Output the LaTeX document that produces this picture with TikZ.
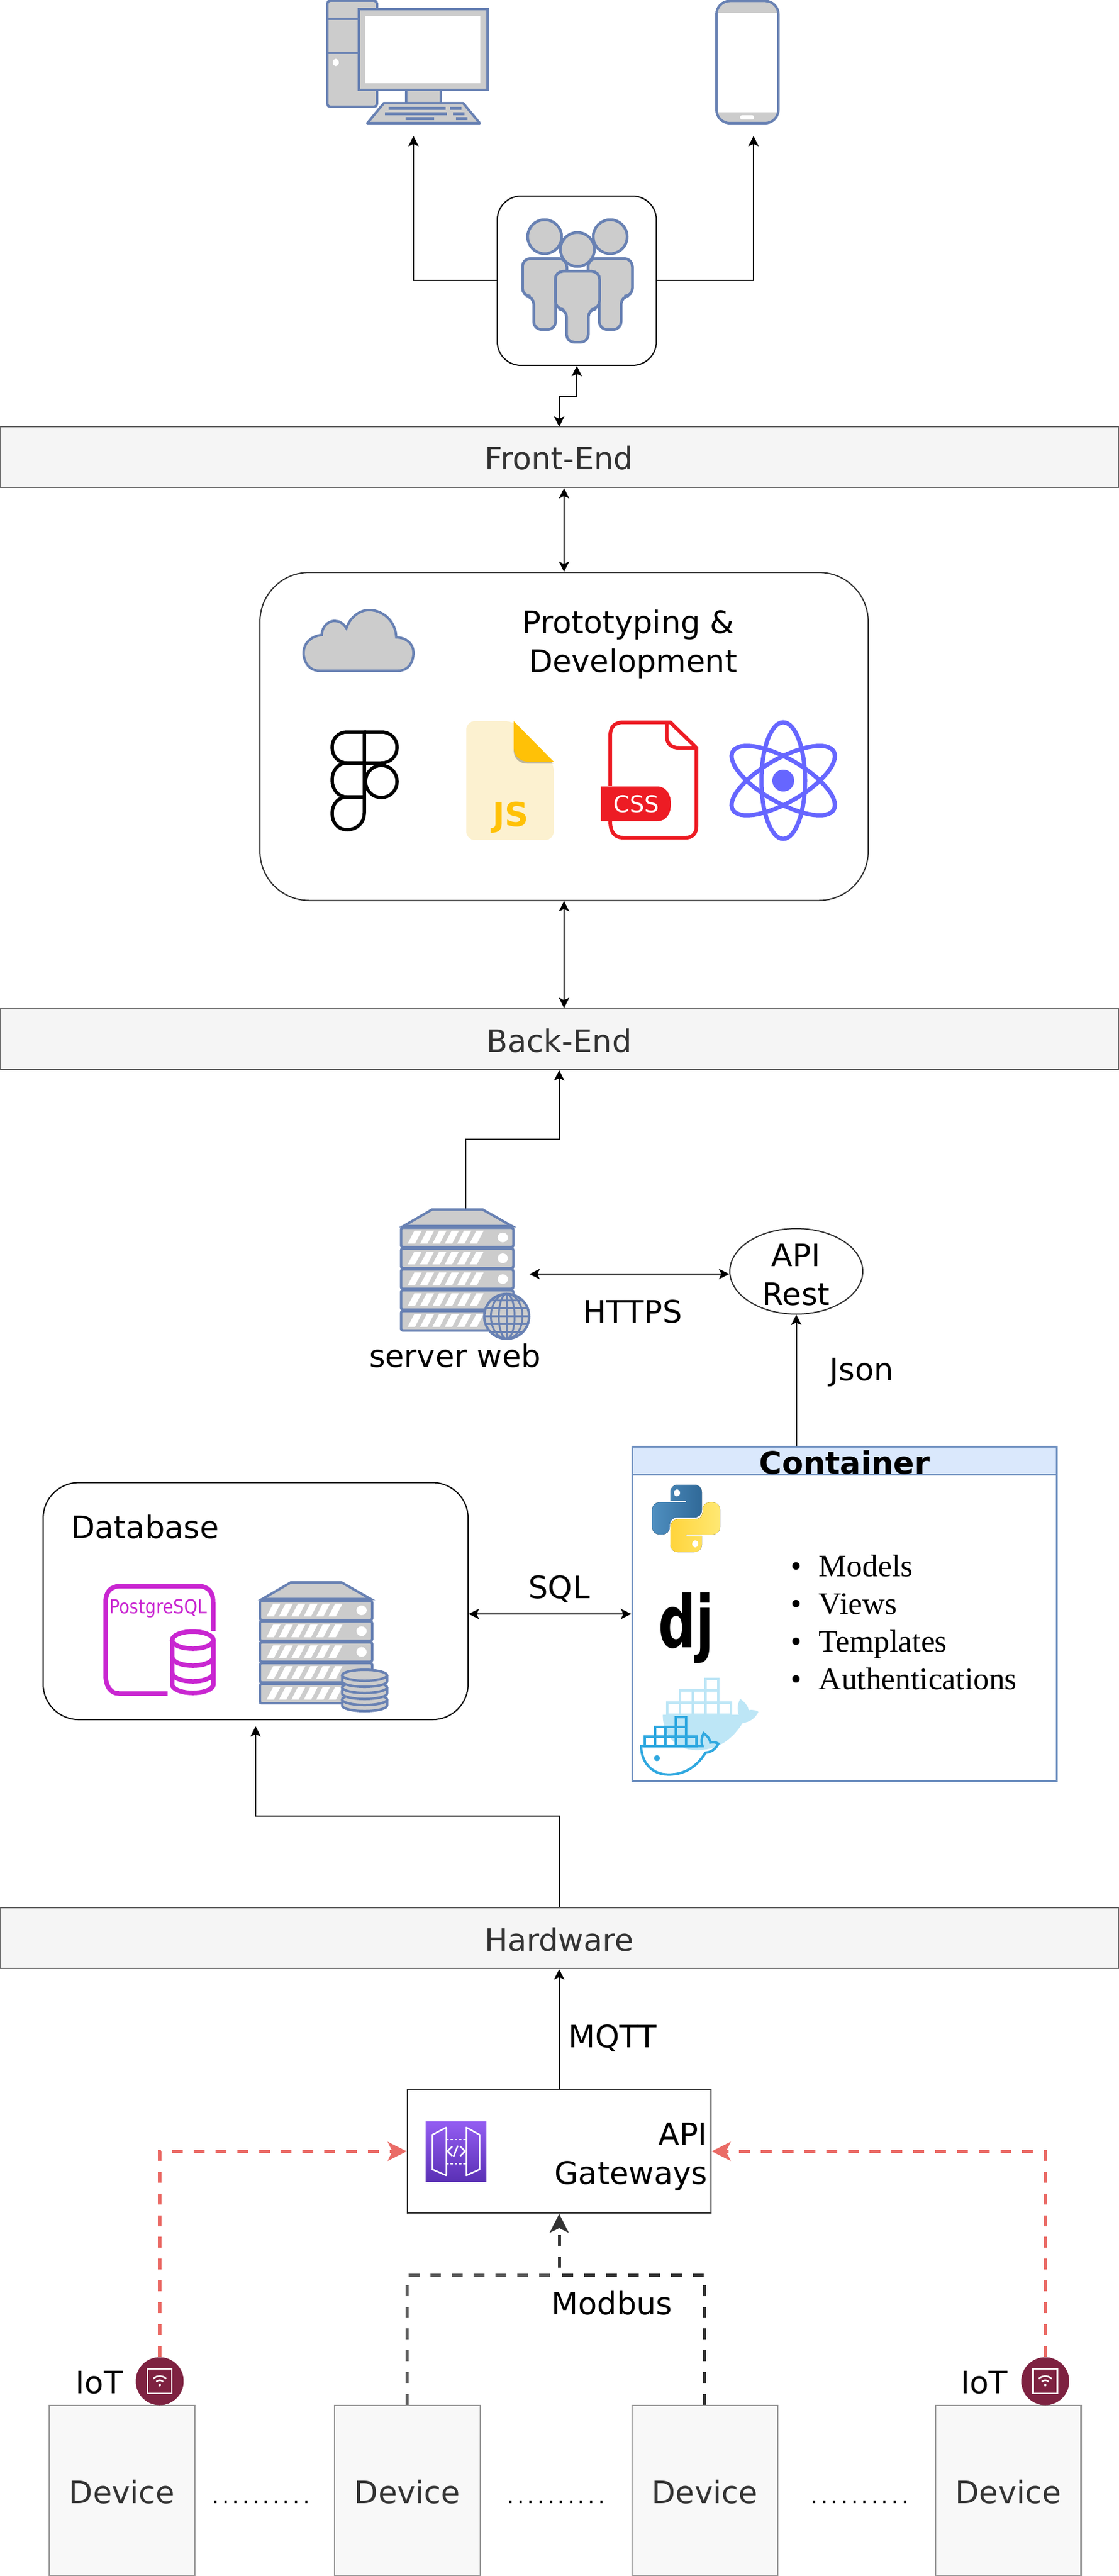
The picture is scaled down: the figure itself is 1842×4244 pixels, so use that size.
\documentclass[tikz,border=0pt]{standalone}
\usepackage{fontspec}
\setmainfont{DejaVu Sans}
\newfontfamily\listfont{Liberation Serif}
\newfontfamily\dotfont[LetterSpace=15.4]{DejaVu Sans}
\usetikzlibrary{arrows.meta,positioning,shapes.geometric}

\definecolor{iconblue}{HTML}{6881B3}
\definecolor{icongrey}{HTML}{CCCCCC}
\definecolor{barfill}{HTML}{F5F5F5}
\definecolor{barline}{HTML}{666666}
\definecolor{barText}{HTML}{333333}
\definecolor{devfill}{HTML}{F8F8F8}
\definecolor{devline}{HTML}{999999}
\definecolor{headfill}{HTML}{DAE8FC}
\definecolor{headline}{HTML}{6C8EBF}
\definecolor{iotred}{HTML}{EA6B66}
\definecolor{iotdisc}{HTML}{7E2241}
\definecolor{pgpink}{HTML}{C926D1}
\definecolor{cssred}{HTML}{ED1C24}
\definecolor{jsfill}{HTML}{FCF1D0}
\definecolor{jsfold}{HTML}{FFC107}
\definecolor{atomblue}{HTML}{6666FF}
\definecolor{dockA}{HTML}{BDE6F6}
\definecolor{dockB}{HTML}{2FA8E0}
\definecolor{pyblueA}{HTML}{4F8FC0}
\definecolor{pyblueB}{HTML}{306998}
\definecolor{pyyellowA}{HTML}{FFE873}
\definecolor{pyyellowB}{HTML}{FFD43B}
\definecolor{gwtop}{HTML}{945DF2}
\definecolor{gwbottom}{HTML}{5A30B5}

\tikzset{
    pics/person/.style={code={
        \draw[fill=icongrey,draw=iconblue,line width=0.09cm] (0,0) circle (28);
        \draw[fill=icongrey,draw=iconblue,line width=0.09cm,rounded corners=0.26cm]
            (-36.5,36) -- (36.5,36) -- (36.5,98) -- (18,98) -- (18,153)
            -- (-18,153) -- (-18,98) -- (-36.5,98) -- cycle;
    }},
    pics/rack/.style={code={
        \draw[fill=icongrey,draw=iconblue,line width=0.08cm]
            (51,0) -- (134.5,0) -- (182.5,27.3) -- (4,27.3) -- cycle;
        \foreach \u in {0,...,4} {
            \draw[fill=icongrey,draw=iconblue,line width=0.08cm,rounded corners=0.06cm]
                (0,30+34.3*\u) rectangle (185,62+34.3*\u);
            \foreach \s in {0,...,5}
                \fill[white] (11+20.4*\s,56+34.3*\u-0) -- (23+20.4*\s,56+34.3*\u)
                    -- (34+20.4*\s,35+34.3*\u) -- (22+20.4*\s,35+34.3*\u) -- cycle;
        }
        \foreach \u in {0,1,2}
            \fill[white] (167.5,46+34.3*\u) ellipse (8.4 and 8);
    }},
    pics/pysnake/.style={code={
        \fill[#1,rounded corners=0.24cm]
            (-26,-29) -- (-26,-55.5) -- (26,-55.5) -- (26,-1.5) -- (-27,-1.5)
            -- (-27,26.5) -- (-56,26.5) -- (-56,-26.5) [sharp corners] -- (0,-26.5) -- (0,-29) -- cycle;
        \fill[white] (-15,-42) ellipse (5 and 6);
    }},
    pics/crates/.style={code={
        \foreach \c in {0,...,4}
            \draw[#1,line width=0.08cm] (17*\c,-16) rectangle ++(17,16);
        \foreach \c in {1,2,3}
            \draw[#1,line width=0.08cm] (17*\c,-32) rectangle ++(17,16);
        \draw[#1,line width=0.08cm] (51,-48) rectangle ++(17,16);
    }},
    pics/hull/.style={code={
        \path[#1] (-6,0) -- (95,0) .. controls (92,-8) and (94,-16) .. (97,-21)
            .. controls (104,-16) and (108,-10) .. (108,-6)
            .. controls (113,-7) and (118,-6) .. (121,-4)
            .. controls (117,5) and (109,10) .. (100,11)
            .. controls (85,35) and (65,47) .. (39,47)
            .. controls (10,47) and (-6,25) .. (-6,0) -- cycle;
    }},
    pics/wifi/.style={code={
        \draw[white,line width=0.05cm] (-20,-20) rectangle (20,20);
        \draw[white,line width=0.05cm] (0,6.5) ++(225:8) arc (225:315:8);
        \draw[white,line width=0.05cm] (0,6.5) ++(225:15) arc (225:315:15);
        \fill[white] (0,6.5) circle (2.2);
    }}
}

\begin{document}
\begin{tikzpicture}[x=0.02cm,y=-0.02cm,on grid,line width=0.04cm,
        >={Stealth[length=0.34cm,width=0.34cm,inset=0.08cm]}]
    \tikzstyle{lab}=[font=\fontsize{29}{36.4}\selectfont,inner sep=0pt,align=center]
    \tikzstyle{bar}=[lab,draw=barline,fill=barfill,text=barText,line width=0.05cm,
        minimum width=36.84cm,minimum height=2cm,text height=0.84cm,text depth=0pt]
    \tikzstyle{devbox}=[lab,draw=devline,fill=devfill,text=barText,line width=0.05cm,
        minimum width=4.8cm,minimum height=5.6cm,text height=0.84cm,text depth=0pt]
    \tikzstyle{softbox}=[draw,rectangle,inner sep=0pt]
    \tikzstyle{iconline}=[fill=icongrey,draw=iconblue,line width=0.08cm]
    \tikzstyle{redline}=[draw=iotred,line width=0.11cm,dash pattern=on 10.2pt off 10.2pt,
        -{Stealth[length=0.62cm,width=0.62cm,inset=0.15cm]}]
    \tikzstyle{greyline}=[line width=0.1cm,dash pattern=on 10.2pt off 10.2pt]
    \tikzstyle{disc}=[circle,fill=iotdisc,minimum size=1.58cm,inner sep=0pt]
    \tikzstyle{dotrow}=[font=\fontsize{20}{21}\dotfont,inner sep=0pt,anchor=base]

    \useasboundingbox (0,0) rectangle (1842,4244);

    % bars and boxes
    \node[bar] (frontend) at (921,753)  {Front-End};
    \node[bar] (backend)  at (921,1712) {Back-End};
    \node[bar] (hardware) at (921,3193) {Hardware};

    \node[softbox,rounded corners=0.78cm,minimum width=5.24cm,minimum height=5.58cm]
        (users) at (950,462.5) {};
    \node[softbox,draw=barText,rounded corners=1.62cm,minimum width=20.04cm,minimum height=10.81cm]
        (proto) at (929,1213.3) {};
    \node[softbox,rounded corners=1.17cm,minimum width=14cm,minimum height=7.81cm]
        (dbbox) at (421,2637.8) {};
    \node[softbox,draw=headline,fill=white,line width=0.06cm,minimum width=14cm,minimum height=11.04cm]
        (contbox) at (1391,2659) {};
    \node[softbox,draw=headline,fill=headfill,line width=0.06cm,minimum width=14cm,minimum height=0.92cm,
        font=\fontsize{29}{36.4}\selectfont\bfseries,text height=0.88cm,text depth=0pt]
        (conthead) at (1391,2406) {Container};
    \node[softbox,draw=barText,line width=0.05cm,minimum width=10cm,minimum height=4.07cm]
        (gateway) at (921,3544.3) {};
    \node[softbox,ellipse,draw=barText,minimum width=4.38cm,minimum height=2.82cm]
        (apirest) at (1311.5,2094.5) {};

    \node[devbox] (dev1) at (201,4103) {Device};
    \node[devbox] (dev2) [right=9.4cm of dev1] {Device};
    \node[devbox] (dev3) [right=9.8cm of dev2] {Device};
    \node[devbox] (dev4) [right=10cm of dev3]  {Device};

    \node[disc] (iotl) at (263,3923)    {};
    \node[disc] (iotr) at (1721.5,3923) {};
    \pic at (iotl) {wifi};
    \pic at (iotr) {wifi};

    % labels
    \node[lab] (prototxt) at (1035,1061) {Prototyping \&\\\hspace*{0.3em}Development};
    \node[lab,anchor=base]      (srvtxt)  at (749.5,2252) {server web};
    \node[lab,anchor=base]      (https)   at (1042,2179)  {HTTPS};
    \node[lab]                  (apitxt)  at (1311,2100.5) {API\\Rest};
    \node[lab,anchor=base]      (json)    at (1419,2274)  {Json};
    \node[lab,anchor=base]      (sql)     at (921,2633)   {SQL};
    \node[lab,anchor=base west] (dbtxt)   at (116.5,2534) {Database};
    \node[lab,anchor=base]      (mqtt)    at (1009,3373)  {MQTT};
    \node[lab,anchor=base]      (modbus)  at (1008,3813)  {Modbus};
    \node[lab,anchor=east,align=right] (gwtxt) at (1166,3553) {API\\Gateways};
    \node[lab,anchor=base]      (iottxtl) at (163.5,3943) {IoT};
    \node[lab,anchor=base]      (iottxtr) at (1621,3943)  {IoT};
    \node[dotrow]               (dots1)   at (430,4124)   {..........};
    \node[dotrow]               (dots2)   at (916,4124)   {..........};
    \node[dotrow]               (dots3)   at (1416,4124)  {..........};

    \foreach \txt [count=\i] in {Models,Views,Templates,Authentications}
        \node[font=\fontsize{29.3}{30}\listfont,inner sep=0pt,anchor=base west]
            (item\i) at (1348,2597+62*\i-62) {\llap{\textbullet\hspace{0.55em}}\txt};

    % free ends of connectors
    \coordinate (pctip)    at (681,224);
    \coordinate (phonetip) at (1241,224);
    \coordinate (userfoot) at (921,703);
    \coordinate (srvtop)   at (766.6,1992.7);
    \coordinate (srvport)  at (872,2099);
    \coordinate (dbtip)    at (421,2844);
    \coordinate (modjoin)  at (921,3748.5);

    % connectors
    \draw[->] (users.west) -| (pctip);
    \draw[->] (users.east) -| (phonetip);
    \draw[<->] (userfoot) -- ++(0,-50) -| (users.south);
    \draw[<->] (frontend.south -| proto.north) -- (proto.north);
    \draw[<->] (backend.north -| proto.south) -- (proto.south);
    \draw[->] (srvtop) -- ++(0,-115.7) -| (backend.south);
    \draw[<->] (srvport) -- (apirest.west |- srvport);
    \draw[->] (conthead.north -| apirest.south) -- (apirest.south);
    \draw[<->] (contbox.west) -- (contbox.west -| dbbox.east);
    \draw[->] (hardware.north) -- ++(0,-150) -| (dbtip);
    \draw[->] (gateway.north) -- (hardware.south);

    \draw[redline] (iotl.north) |- (gateway.west);
    \draw[redline] (iotr.north) |- (gateway.east);
    \draw[greyline,draw=black!65] (dev2.north) |- (modjoin);
    \draw[greyline,draw=barText,-{Stealth[length=0.62cm,width=0.62cm,inset=0.15cm]}]
        (dev3.north) |- (modjoin) -- (gateway.south);

    % desktop
    \draw[iconline,rounded corners=0.1cm] (539,1) rectangle (621,176);
    \draw[iconline] (539,31) -- (600,31) (539,87) -- (600,87);
    \fill[white] (553,103) ellipse (5 and 6);
    \draw[iconline] (669,148) rectangle (726,172);
    \draw[iconline,line join=round] (632,170) -- (763,170) -- (790,203) -- (605,203) -- cycle;
    \foreach \xa/\xb/\ya in {640/734/176,741/760/176,634/736/185,746/765/185,668/715/193,751/770/193}
        \fill[iconblue] (\xa,\ya) rectangle (\xb,\ya+5);
    \draw[iconline] (591,15) rectangle (803,148);
    \fill[white] (600.5,26) rectangle (790.6,137);

    % phone
    \begin{scope}
        \clip[rounded corners=0.44cm] (1180,1.5) rectangle (1282,203);
        \fill[white] (1180,1.5) rectangle (1282,203);
        \fill[icongrey] (1180,1.5) rectangle (1282,21);
        \fill[icongrey] (1180,185) rectangle (1282,203);
    \end{scope}
    \draw[draw=iconblue,line width=0.08cm,rounded corners=0.44cm] (1180,1.5) rectangle (1282,203);
    \fill[white,rounded corners=0.06cm] (1219,190) rectangle (1242,197);

    % users
    \pic at (897,390)  {person};
    \pic at (1005,390) {person};
    \pic at (951,411)  {person};

    % cloud
    \draw[iconline] (526,1105) -- (656,1105) .. controls (672,1105) and (681,1092) .. (681,1075)
        .. controls (681,1060) and (668,1050) .. (652.6,1050)
        .. controls (652,1025) and (632,1005) .. (608,1005)
        .. controls (590,1005) and (575,1020) .. (570.5,1035)
        .. controls (565,1026) and (558,1023) .. (551,1023)
        .. controls (540,1023) and (530,1033) .. (530,1046)
        .. controls (512,1048) and (500,1060) .. (500,1075)
        .. controls (500,1092) and (510,1105) .. (526,1105) -- cycle;

    % figma
    \begin{scope}[line width=0.11cm]
        \draw (600,1206) -- (572,1206) .. controls (556,1206) and (547,1218) .. (547,1231)
            .. controls (547,1245) and (556,1257) .. (572,1257) -- (600,1257) -- cycle;
        \draw (600,1206) -- (628,1206) .. controls (644,1206) and (654,1218) .. (654,1231)
            .. controls (654,1245) and (644,1257) .. (628,1257) -- (600,1257);
        \draw (600,1257) -- (572,1257) .. controls (556,1257) and (547,1270) .. (547,1285)
            .. controls (547,1300) and (556,1313) .. (572,1313) -- (600,1313) -- cycle;
        \draw (628,1287.5) ellipse (26 and 26.5);
        \draw (600,1313) -- (572,1313) .. controls (556,1313) and (547,1326) .. (547,1340)
            .. controls (547,1355) and (556,1367) .. (572,1367)
            .. controls (588,1367) and (600,1355) .. (600,1340) -- cycle;
    \end{scope}

    % js file
    \fill[jsfill,rounded corners=0.28cm] (768,1188) -- (846,1188) -- (912,1256) -- (912,1384) -- (768,1384) -- cycle;
    \fill[black!25!jsfill] (846,1200) -- (846,1236) .. controls (846,1250) and (856,1258) .. (868,1258) -- (912,1258) -- (900,1250) -- cycle;
    \fill[jsfold] (846,1188) -- (846,1232) .. controls (846,1246) and (858,1255) .. (870,1255) -- (912,1255) -- cycle;
    \node[font=\fontsize{31}{32}\selectfont\bfseries,text=jsfold,inner sep=0pt,anchor=base] (jstxt) at (841,1361) {JS};

    % css file
    \draw[cssred,line width=0.12cm] (1005,1295) -- (1005,1212) .. controls (1005,1198) and (1012,1190) .. (1026,1190)
        -- (1104,1190) -- (1147,1232) -- (1147,1362) .. controls (1147,1373) and (1140,1380) .. (1130,1380)
        -- (1026,1380) .. controls (1012,1380) and (1005,1370) .. (1005,1353);
    \draw[cssred,line width=0.12cm] (1098,1190) -- (1098,1212) .. controls (1098,1226) and (1106,1232) .. (1118,1232) -- (1147,1232);
    \fill[cssred] (989.5,1295.5) -- (1082,1295.5) .. controls (1098,1295.5) and (1105,1310) .. (1105,1324)
        .. controls (1105,1340) and (1098,1353) .. (1082,1353) -- (989.5,1353) -- cycle;
    \node[font=\fontsize{21.6}{22}\selectfont,text=white,inner sep=0pt,anchor=base] (csstxt) at (1048,1338) {CSS};

    % react atom
    \begin{scope}[draw=atomblue,line width=0.14cm]
        \draw (1290,1286) ellipse (36 and 96);
        \draw[rotate around={60:(1290,1286)}] (1290,1286) ellipse (36 and 96);
        \draw[rotate around={-60:(1290,1286)}] (1290,1286) ellipse (36 and 96);
    \end{scope}
    \fill[atomblue] (1290,1286) circle (18);

    % server web
    \pic at (660.5,1992.7) {rack};
    \begin{scope}
        \clip (834.5,2168.7) circle (37);
        \fill[icongrey] (834.5,2168.7) circle (37);
        \begin{scope}[draw=iconblue,line width=0.06cm]
            \draw (834.5,2130) -- (834.5,2206);
            \draw (834.5,2168.7) ellipse (13 and 37) (834.5,2168.7) ellipse (26 and 37);
            \foreach \dy in {-26,-13,0,13,26}
                \draw (797,2168.7+\dy) -- (872,2168.7+\dy);
        \end{scope}
    \end{scope}
    \draw[draw=iconblue,line width=0.08cm] (834.5,2168.7) circle (37);

    % database icons
    \draw[pgpink,line width=0.15cm] (351,2687) -- (351,2640) .. controls (351,2622) and (343,2613) .. (325,2613)
        -- (200,2613) .. controls (182,2613) and (174,2622) .. (174,2640) -- (174,2760)
        .. controls (174,2778) and (182,2790) .. (196,2790) -- (276,2790);
    \node[font=\fontsize{18.2}{19}\selectfont,text=pgpink,inner sep=0pt,anchor=base,transform shape,xscale=0.88]
        (pgtxt) at (261,2658) {PostgreSQL};
    \draw[pgpink,fill=white,line width=0.15cm] (283.5,2702) -- (283.5,2775) arc (180:0:34 and 14) -- (351.5,2702);
    \draw[pgpink,fill=white,line width=0.15cm] (317.5,2702) ellipse (34 and 14);
    \draw[pgpink,line width=0.15cm] (283.5,2730) arc (180:0:34 and 14);
    \draw[pgpink,line width=0.15cm] (283.5,2756) arc (180:0:34 and 14);

    \pic at (428,2607) {rack};
    \foreach \cy in {2800,2780,2760} {
        \draw[iconline] (563.5,\cy) -- (563.5,\cy+10) arc (180:0:37 and 9) -- (637.5,\cy);
        \draw[iconline] (600.5,\cy) ellipse (37 and 9);
    }

    % python, django, docker
    \pic at (1130,2501.5) {pysnake={left color=pyblueA,right color=pyblueB}};
    \pic[rotate=180] at (1130,2501.5) {pysnake={left color=pyyellowB,right color=pyyellowA}};
    \node[font=\fontsize{68}{70}\selectfont\bfseries,inner sep=0pt,anchor=base,transform shape,xscale=0.72]
        (djtxt) at (1130,2714) {dj};

    \pic[scale=1.24] at (1099,2825) {hull={fill=dockA}};
    \pic[scale=1.24] at (1099,2825) {crates={draw=dockA}};
    \pic at (1062,2876.6) {crates={draw=dockB}};
    \pic at (1062,2876.6) {hull={draw=dockB,line width=0.08cm}};
    \fill[dockB] (1082,2896.6) circle (5);

    % api gateway icon
    \shade[top color=gwtop,bottom color=gwbottom] (701,3495) rectangle (801,3594);
    \begin{scope}[white,line width=0.05cm,line join=round]
        \draw (735,3505) -- (735,3584) -- (712,3574) -- (712,3517) -- cycle;
        \draw (768,3505) -- (768,3584) -- (790,3574) -- (790,3517) -- cycle;
        \draw[dash pattern=on 2.5pt off 1.5pt] (735,3525) -- (768,3525) (735,3565) -- (768,3565);
        \draw (745,3536) -- (737,3544) -- (745,3552);
        \draw (754,3535) -- (747,3553);
        \draw (758,3536) -- (766,3544) -- (758,3552);
    \end{scope}
\end{tikzpicture}
\end{document}
